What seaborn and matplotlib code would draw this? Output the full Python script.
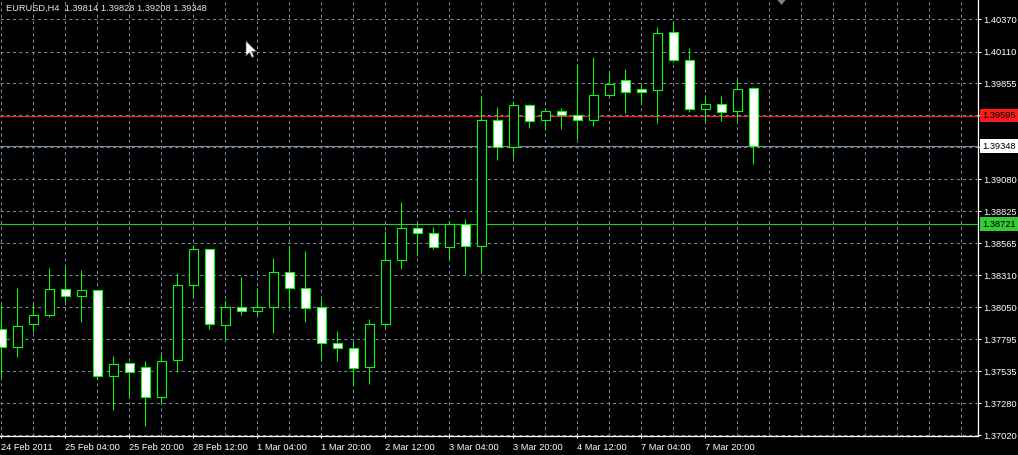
import numpy as np
import pandas as pd
import matplotlib
matplotlib.use("Agg")
import matplotlib.pyplot as plt
import seaborn as sns
from matplotlib.patches import Polygon
from matplotlib.transforms import IdentityTransform, blended_transform_factory

# ---------------- data ----------------
chart_title = "EURUSD,H4  1.39814 1.39828 1.39208 1.39348"

opens = [1.37874, 1.37729, 1.37914, 1.37986, 1.38196, 1.38139, 1.38188, 1.37495,
         1.37600, 1.37568, 1.37326, 1.37624, 1.38228, 1.38518, 1.37908, 1.38051,
         1.38019, 1.38051, 1.38333, 1.38204, 1.38051, 1.37761, 1.37721, 1.37568,
         1.37914, 1.38429, 1.38687, 1.38647, 1.38539, 1.38719, 1.38547, 1.39557,
         1.39344, 1.39678, 1.39557, 1.39629, 1.39597, 1.39557, 1.39758, 1.39879,
         1.39806, 1.39798, 1.40265, 1.40040, 1.39645, 1.39686, 1.39629, 1.39814]
highs = [1.38069, 1.38209, 1.38077, 1.38367, 1.38375, 1.38351, 1.38190, 1.37659,
         1.37602, 1.37620, 1.37680, 1.38325, 1.38550, 1.38520, 1.38109, 1.38292,
         1.38207, 1.38446, 1.38547, 1.38504, 1.38115, 1.37862, 1.37774, 1.37954,
         1.38665, 1.38899, 1.38719, 1.38697, 1.38746, 1.38762, 1.39752, 1.39664,
         1.39712, 1.39688, 1.39629, 1.39653, 1.40008, 1.40064, 1.39951, 1.39967,
         1.39847, 1.40306, 1.40354, 1.40136, 1.39758, 1.39750, 1.39887, 1.39828]
lows = [1.37490, 1.37648, 1.37854, 1.37970, 1.38096, 1.37932, 1.37479, 1.37226,
        1.37326, 1.37098, 1.37281, 1.37527, 1.38136, 1.37874, 1.37793, 1.37991,
        1.37991, 1.37841, 1.38051, 1.37935, 1.37616, 1.37621, 1.37417, 1.37436,
        1.37895, 1.38362, 1.38464, 1.38518, 1.38442, 1.38319, 1.38335, 1.39237,
        1.39256, 1.39497, 1.39481, 1.39489, 1.39404, 1.39513, 1.39750, 1.39613,
        1.39686, 1.39537, 1.40024, 1.39621, 1.39549, 1.39549, 1.39549, 1.39208]
closes = [1.37729, 1.37900, 1.37989, 1.38196, 1.38139, 1.38188, 1.37495, 1.37592,
          1.37527, 1.37326, 1.37616, 1.38228, 1.38518, 1.37916, 1.38051, 1.38019,
          1.38051, 1.38333, 1.38204, 1.38043, 1.37761, 1.37721, 1.37560, 1.37914,
          1.38429, 1.38687, 1.38647, 1.38539, 1.38719, 1.38547, 1.39557, 1.39344,
          1.39678, 1.39549, 1.39629, 1.39597, 1.39557, 1.39758, 1.39847, 1.39782,
          1.39782, 1.40257, 1.40040, 1.39645, 1.39686, 1.39621, 1.39806, 1.39348]

x_tick_labels = ["24 Feb 2011", "25 Feb 04:00", "25 Feb 20:00", "28 Feb 12:00",
                 "1 Mar 04:00", "1 Mar 20:00", "2 Mar 12:00", "3 Mar 04:00",
                 "3 Mar 20:00", "4 Mar 12:00", "7 Mar 04:00", "7 Mar 20:00"]
bars_per_label = 4

y_tick_values = [1.37020, 1.37280, 1.37535, 1.37795, 1.38050, 1.38310, 1.38565,
                 1.38825, 1.39080, 1.39340, 1.39600, 1.39855, 1.40110, 1.40370]
y_tick_labels = ["1.37020", "1.37280", "1.37535", "1.37795", "1.38050", "1.38310",
                 "1.38565", "1.38825", "1.39080", "", "", "1.39855", "1.40110", "1.40370"]

bid_price = 1.39348
red_level = 1.39595
green_level = 1.38721

# ---------------- style ----------------
sns.set_theme(style="dark")
plt.rcParams["font.family"] = ["Liberation Sans", "DejaVu Sans"]

BG = "#000000"
GRID = "#778899"
CANDLE = "#00ff00"
TXT = "#ffffff"
FS = 6.7

W, H = 1018, 455
fig = plt.figure(figsize=(W / 100, H / 100), dpi=100, facecolor=BG)
plot_right = 978
plot_bottom = 436
ax = fig.add_axes([0, 1 - plot_bottom / H, plot_right / W, plot_bottom / H])
ax.set_facecolor(BG)

df = pd.DataFrame({"open": opens, "high": highs, "low": lows, "close": closes})
df["bar"] = np.arange(len(df))
df["bull"] = df["close"] >= df["open"]
df["lo_body"] = df[["open", "close"]].min(axis=1)
df["hi_body"] = df[["open", "close"]].max(axis=1)

px_per_bar = 16.0
ax.set_xlim(-1.3 / px_per_bar, (plot_right - 1.3) / px_per_bar)
ax.set_ylim(1.370144, 1.405254)

# wicks
ax.vlines(df["bar"], df["low"], df["high"], color=CANDLE, linewidth=0.75, zorder=3)
# bodies
fills = np.where(df["bull"], "#000000", "#ffffff")
ax.bar(df["bar"], df["hi_body"] - df["lo_body"], bottom=df["lo_body"], width=9 / px_per_bar,
       color=fills, edgecolor=CANDLE, linewidth=0.8, zorder=4)

# grid
n_label = len(x_tick_labels)
ax.set_xticks(np.arange(n_label) * bars_per_label)
ax.set_xticklabels(x_tick_labels, ha="left")
ax.set_xticks(np.arange(0, 62, 2), minor=True)
ax.set_yticks(y_tick_values)
ax.set_yticklabels(y_tick_labels)
ax.grid(True, which="both", axis="x", color=GRID, linestyle=(0, (3, 3)), linewidth=0.75)
ax.grid(True, which="major", axis="y", color=GRID, linestyle=(0, (3, 3)), linewidth=0.75)
ax.set_axisbelow(True)

# horizontal levels
ax.axhline(red_level, color="#ff1a1a", linewidth=0.8, zorder=2)
ax.axhline(green_level, color="#22cc22", linewidth=0.8, zorder=2)
ax.axhline(bid_price, color=GRID, linewidth=0.8, zorder=2)

# axes styling
for s in ["left", "top"]:
    ax.spines[s].set_visible(False)
for s in ["right", "bottom"]:
    ax.spines[s].set_color("#ffffff")
    ax.spines[s].set_linewidth(0.9)
ax.yaxis.tick_right()
ax.tick_params(axis="y", which="major", colors=TXT, labelsize=FS, length=2, width=0.8,
               pad=2, direction="out", right=True, left=False)
ax.tick_params(axis="x", which="major", colors=TXT, labelsize=FS, length=3, width=0.8,
               pad=3.5, direction="inout", bottom=True)
ax.tick_params(axis="x", which="minor", length=0)
for lab in ax.get_yticklabels() + ax.get_xticklabels():
    lab.set_color(TXT)

# price boxes on the right scale
trans = blended_transform_factory(ax.transAxes, ax.transData)
for price, txt, fc in [(red_level, "1.39595", "#ff1a1a"),
                       (green_level, "1.38721", "#33cc33"),
                       (bid_price, "1.39348", "#ffffff")]:
    ax.annotate(txt, xy=(1.0, price), xycoords=trans, xytext=(3.2, 0),
                textcoords="offset points", ha="left", va="center", fontsize=FS,
                color="#000000", annotation_clip=False,
                bbox=dict(boxstyle="square,pad=0.25", fc=fc, ec="none"))

# title
fig.text(6 / W, 1 - 8 / H, chart_title, color="#e8e8e8", fontsize=FS, ha="left", va="center")

# chart shift marker (small grey down-pointing triangle at the top edge)
marker = Polygon([(776.5, H + 1), (786.5, H + 1), (781.5, H - 5)], closed=True,
                 transform=IdentityTransform(), fc="#708090", ec="none", zorder=10)
fig.patches.append(marker)

# mouse cursor
tip = np.array([246.0, H - 41.0])
shape = np.array([(0, 0), (0, -15), (3.5, -11.5), (6, -16.5), (8, -15.5), (5.5, -10.5), (10.5, -10.5)])
cursor = Polygon(tip + shape, closed=True, transform=IdentityTransform(),
                 fc="#ffffff", ec="#555555", lw=0.5, zorder=10)
fig.patches.append(cursor)

fig.savefig("out.png", dpi=100, facecolor=BG)
